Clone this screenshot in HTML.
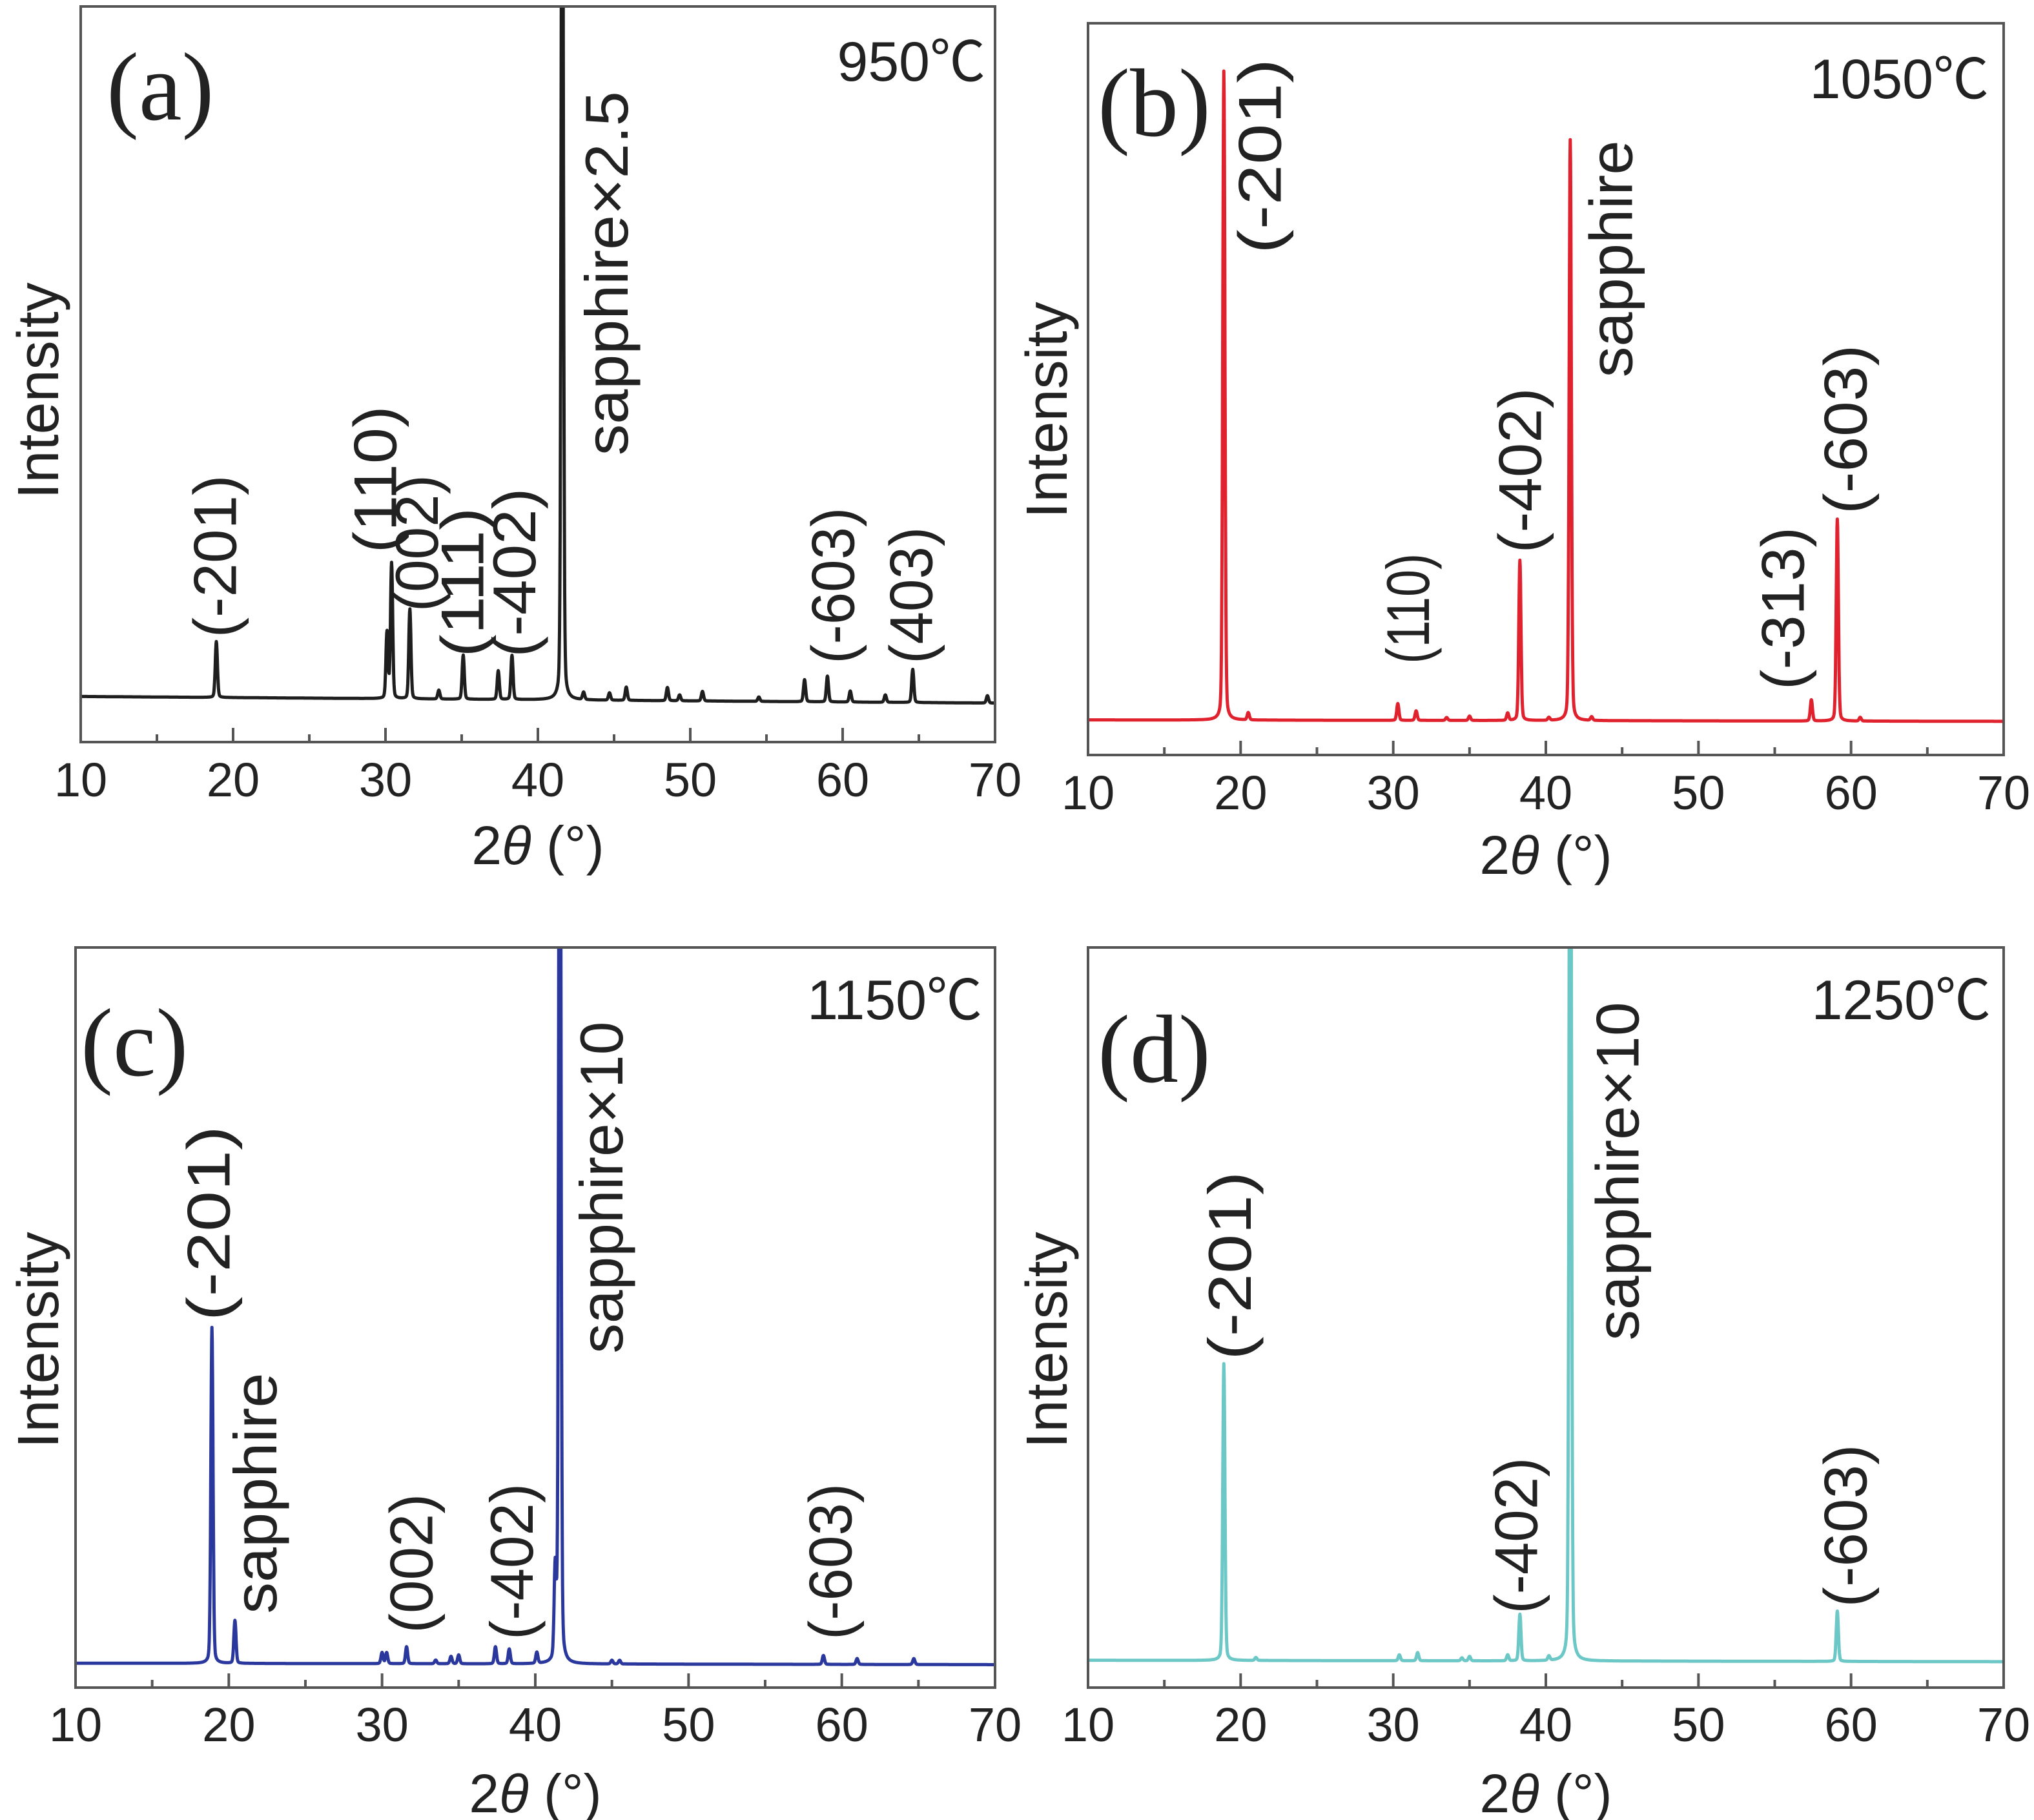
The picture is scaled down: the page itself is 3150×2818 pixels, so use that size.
<!DOCTYPE html>
<html><head><meta charset="utf-8"><style>
html,body{margin:0;padding:0;background:#fff;}
svg{display:block;}
</style></head><body>
<svg id="fig" xmlns="http://www.w3.org/2000/svg" width="3150" height="2818" viewBox="0 0 3150 2818"></svg>
<script>
// ---- data (peak positions in degrees, heights in % of plot height above baseline) ----
const xTicks = [10, 20, 30, 40, 50, 60, 70];
const xTickLabels = ["10", "20", "30", "40", "50", "60", "70"];

const aPeakPos = [18.9, 30.1, 30.4, 31.6, 33.5, 35.1, 37.4, 38.3, 41.6, 43.0, 44.7, 45.8, 48.5, 49.3, 50.8, 54.5, 57.5, 59.0, 60.5, 62.8, 64.6, 69.5];
const aPeakHeight = [7.6, 9.0, 18.4, 12.2, 1.2, 6.0, 3.9, 6.0, 140, 1.0, 1.0, 1.8, 1.8, 0.8, 1.3, 0.6, 3.0, 3.5, 1.5, 1.0, 4.5, 1.0];
const aBaseline = [6.2, 5.3];

const bPeakPos = [18.9, 20.5, 30.3, 31.5, 33.5, 35.0, 37.5, 38.3, 40.2, 41.6, 43.0, 57.4, 59.1, 60.6];
const bPeakHeight = [88.7, 1.0, 2.3, 1.3, 0.4, 0.6, 1.0, 21.9, 0.4, 79.4, 0.5, 2.9, 27.6, 0.5];
const bBaseline = [4.8, 4.6];

const cPeakPos = [18.9, 20.4, 30.0, 30.3, 31.6, 33.5, 34.5, 35.0, 37.4, 38.3, 40.1, 41.3, 41.6, 45.0, 45.5, 58.8, 61.0, 64.7];
const cPeakHeight = [45.4, 5.8, 1.5, 1.5, 2.3, 0.5, 1.0, 1.2, 2.3, 2.0, 1.5, 12, 160, 0.5, 0.5, 1.2, 0.8, 0.8];
const cBaseline = [3.3, 3.1];

const dPeakPos = [18.9, 21.0, 30.4, 31.6, 34.5, 35.0, 37.5, 38.3, 40.2, 41.6, 59.1];
const dPeakHeight = [40.1, 0.4, 0.8, 1.1, 0.4, 0.6, 0.8, 6.3, 0.6, 160, 6.8];
const dBaseline = [3.7, 3.5];

const aLabels = ["(-201)", "(110)", "(002)", "(111)", "(-402)", "sapphire×2.5", "(-603)", "(403)"];
const bLabels = ["(-201)", "(110)", "(-402)", "sapphire", "(-313)", "(-603)"];
const cLabels = ["(-201)", "sapphire", "(002)", "(-402)", "sapphire×10", "(-603)"];
const dLabels = ["(-201)", "(-402)", "sapphire×10", "(-603)"];
const panelLetters = ["(a)", "(b)", "(c)", "(d)"];
const temps = ["950℃", "1050℃", "1150℃", "1250℃"];

// ---- layout (pixels) ----
const S = 2.015;
const NS = "http://www.w3.org/2000/svg";
const svg = document.getElementById('fig');
function el(tag, attrs, parent) {
  const e = document.createElementNS(NS, tag);
  for (const k in attrs) e.setAttribute(k, attrs[k]);
  (parent || svg).appendChild(e);
  return e;
}
const panels = [
  {key:'a', box:[125,10,1541,1149], tickY:1233, xlabY:1338, ylabX:90, ylabY:605, color:'#1e1e1e',
   pos:aPeakPos, h:aPeakHeight, base:aBaseline, labels:aLabels,
   lab:[[165,490,365],[288,425,312],[320,470,365],[355,505,390],[395,505,375],[466,350,70],[640,510,390],[700,510,405]],
   letter:[165,185], temp:[1526,125]},
  {key:'b', box:[1685,36,3103,1169], tickY:1253, xlabY:1353, ylabX:1652, ylabY:635, color:'#e0222e',
   pos:bPeakPos, h:bPeakHeight, base:bBaseline, labels:bLabels,
   lab:[[968,195,45],[1082,510,425],[1168,425,298],[1238,290,108],[1370,530,405],[1418,395,265]],
   letter:[1700,210], temp:[3080,152]},
  {key:'c', box:[117,1467,1541,2613], tickY:2696, xlabY:2806, ylabX:90, ylabY:2075, color:'#2a389e',
   pos:cPeakPos, h:cPeakHeight, base:cBaseline, labels:cLabels,
   lab:[[160,1015,865],[196,1240,1055],[316,1255,1148],[393,1260,1140],[462,1040,785],[638,1260,1140]],
   letter:[125,1665], temp:[1521,1578]},
  {key:'d', box:[1685,1467,3103,2613], tickY:2696, xlabY:2806, ylabX:1652, ylabY:2075, color:'#6cc8c6',
   pos:dPeakPos, h:dPeakHeight, base:dBaseline, labels:dLabels,
   lab:[[945,1045,900],[1165,1240,1120],[1243,1030,770],[1418,1235,1110]],
   letter:[1700,1675], temp:[3083,1578]}
];

panels.forEach((p, pi) => {
  const [x0,y0,x1,y1] = p.box;
  const g = el('g', {});
  
  
  const xs = v => x0 + (v - 10) / 60 * (x1 - x0);
  const ys = v => y1 - v / 100 * (y1 - y0);
  const cp = el('clipPath', {id:'clip'+p.key}, g);
  el('rect', {x:x0, y:y0, width:x1-x0, height:y1-y0}, cp);
  // trace (pseudo-Voigt peaks)
  let d = '';
  for (let t = 10; t <= 70.0001; t += 0.02) {
    let v = p.base[0] + (p.base[1]-p.base[0]) * (t-10)/60;
    for (let i = 0; i < p.pos.length; i++) {
      const dx = t - p.pos[i];
      const gs = Math.exp(-dx*dx/(2*0.07*0.07));
      const lz = 1 / (1 + (dx/0.1)*(dx/0.1));
      v += p.h[i] * (0.85*gs + 0.15*lz);
    }
    d += (d ? 'L' : 'M') + xs(t).toFixed(1) + ',' + ys(v).toFixed(1);
  }
  const path = el('path', {d:d, fill:'none', stroke:p.color, 'stroke-width':5, 'stroke-linejoin':'round', 'clip-path':'url(#clip'+p.key+')'}, g);
  
  
  // frame
  const fr = el('rect', {x:x0, y:y0, width:x1-x0, height:y1-y0, fill:'none', stroke:'#555', 'stroke-width':4}, g);
  
  
  // ticks
  for (let t = 15; t < 70; t += 10) {
    el('line', {x1:xs(t), x2:xs(t), y1:y1, y2:y1-12, stroke:'#555', 'stroke-width':4}, g);
  }
  xTicks.forEach((t, i) => {
    if (t > 10 && t < 70) el('line', {x1:xs(t), x2:xs(t), y1:y1, y2:y1-22, stroke:'#555', 'stroke-width':4}, g);
    const tl = el('text', {x:xs(t), y:p.tickY, 'text-anchor':'middle', 'font-family':'Liberation Sans, sans-serif', 'font-size':74, fill:'#222'}, g);
    tl.textContent = xTickLabels[i];
    
    
  });
  // x label
  const xl = el('text', {x:(x0+x1)/2, y:p.xlabY, 'text-anchor':'middle', 'font-family':'Liberation Sans, sans-serif', 'font-size':84, fill:'#222'}, g);
  xl.innerHTML = '2<tspan font-style="italic">θ</tspan> (°)';
  
  
  // y label
  const yl = el('text', {x:0, y:0, 'text-anchor':'middle', 'font-family':'Liberation Sans, sans-serif', 'font-size':90, fill:'#222', transform:'translate('+p.ylabX+','+p.ylabY+') rotate(-90)'}, g);
  yl.textContent = 'Intensity';
  
  
  // panel letter
  const pl = el('text', {x:p.letter[0], y:p.letter[1], 'font-family':'Liberation Serif, serif', 'font-size':150, fill:'#222'}, g);
  pl.textContent = panelLetters[pi];
  
  
  // temperature
  const tp = el('text', {x:p.temp[0], y:p.temp[1], 'text-anchor':'end', 'font-family':'Liberation Sans, "Noto Sans CJK SC", sans-serif', 'font-size':86, fill:'#222'}, g);
  tp.textContent = temps[pi];
  
  
  // peak labels
  p.labels.forEach((txt, i) => {
    const [cx, yb, yt] = p.lab[i];
    const bx = cx*S + 33, by = yb*S, len = (yb - yt)*S;
    const t = el('text', {x:0, y:0, 'font-family':'Liberation Sans, sans-serif', 'font-size':94, fill:'#222',
      textLength:len.toFixed(0), lengthAdjust:'spacingAndGlyphs', transform:'translate('+bx.toFixed(1)+','+by.toFixed(1)+') rotate(-90)'}, g);
    t.textContent = txt;
    
    
  });
});
</script>
</body></html>
